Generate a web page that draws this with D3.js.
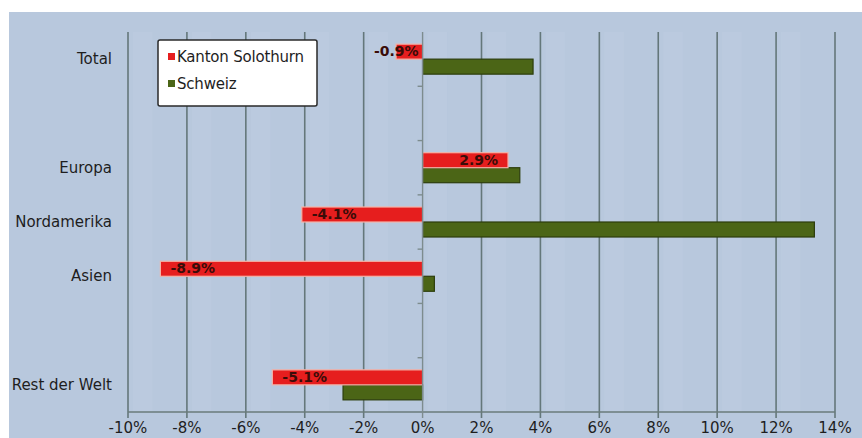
<!DOCTYPE html>
<html>
<head>
<meta charset="utf-8">
<script src="https://cdn.jsdelivr.net/npm/d3@7"></script>
<style>
  body { margin: 0; background: #fff; }
  svg text { font-family: "DejaVu Sans", Tahoma, sans-serif; }
</style>
</head>
<body>
<div class="chart"></div>
<script>
// data
const categories = ["Total", "", "Europa", "Nordamerika", "Asien", " ", "Rest der Welt"];
const solothurn = [-0.9, null, 2.9, -4.1, -8.9, null, -5.1];
const schweiz = [3.75, null, 3.3, 13.3, 0.4, null, -2.7];
const seriesNames = ["Kanton Solothurn", "Schweiz"];
const xTicks = [-10, -8, -6, -4, -2, 0, 2, 4, 6, 8, 10, 12, 14];

const width = 862, height = 438;
const colors = { red: "#e61e1e", green: "#4b6516" };

const svg = d3.select(".chart").append("svg")
    .attr("width", width)
    .attr("height", height);

// background panel
svg.append("rect")
    .attr("x", 9).attr("y", 12)
    .attr("width", width - 9).attr("height", height - 12)
    .attr("fill", "#b8c8dd");

const x = d3.scaleLinear().domain([-10, 14]).range([128, 835]);
const y = d3.scaleBand().domain(categories).range([32, 412]);

// faint lighter stripes between grid lines
svg.append("g").selectAll("rect")
    .data(xTicks.slice(0, -1))
    .join("rect")
    .attr("x", d => x(d) + 5)
    .attr("y", 32)
    .attr("width", (x(2) - x(0)) / 2 - 10)
    .attr("height", 380)
    .attr("fill", "#c2d1e4")
    .attr("opacity", 0.3);

// vertical grid lines
svg.append("g").selectAll("line")
    .data(xTicks.filter(d => d !== 0))
    .join("line")
    .attr("x1", d => x(d)).attr("x2", d => x(d))
    .attr("y1", 32).attr("y2", 418)
    .attr("stroke", "#64777a")
    .attr("stroke-width", 1.6);

// bottom axis
svg.append("line")
    .attr("x1", x(-10)).attr("x2", x(14))
    .attr("y1", 412).attr("y2", 412)
    .attr("stroke", "#6a7b7a")
    .attr("stroke-width", 1.6);

svg.append("g").selectAll("text")
    .data(xTicks)
    .join("text")
    .attr("x", d => x(d))
    .attr("y", 433)
    .attr("text-anchor", "middle")
    .attr("font-size", 15)
    .attr("fill", "#1e1e1e")
    .text(d => d + "%");

// category labels
svg.append("g").selectAll("text")
    .data(categories.filter(c => c.trim() !== ""))
    .join("text")
    .attr("x", 112)
    .attr("y", d => y(d) + y.bandwidth() / 2 + 5)
    .attr("text-anchor", "end")
    .attr("font-size", 15)
    .attr("fill", "#1e1e1e")
    .text(d => d);

const barH = 15;
const rows = categories.map((c, i) => ({ c, a: solothurn[i], b: schweiz[i] }));

// Schweiz bars (below center)
svg.append("g").selectAll("rect")
    .data(rows.filter(d => d.b !== null))
    .join("rect")
    .attr("x", d => x(Math.min(0, d.b)))
    .attr("y", d => y(d.c) + y.bandwidth() / 2)
    .attr("width", d => Math.abs(x(d.b) - x(0)))
    .attr("height", barH)
    .attr("fill", colors.green)
    .attr("stroke", "#2c3d0c")
    .attr("stroke-width", 1.2);

// Solothurn bars (above center)
svg.append("g").selectAll("rect")
    .data(rows.filter(d => d.a !== null))
    .join("rect")
    .attr("x", d => x(Math.min(0, d.a)))
    .attr("y", d => y(d.c) + y.bandwidth() / 2 - barH)
    .attr("width", d => Math.abs(x(d.a) - x(0)))
    .attr("height", barH)
    .attr("fill", colors.red)
    .attr("stroke", "#f3b3a8")
    .attr("stroke-width", 1.2);

// zero axis with small ticks
svg.append("line")
    .attr("x1", x(0)).attr("x2", x(0))
    .attr("y1", 32).attr("y2", 418)
    .attr("stroke", "#7d8c8e")
    .attr("stroke-width", 1.4);
svg.append("g").selectAll("line")
    .data(categories.slice(1))
    .join("line")
    .attr("x1", x(0) - 5).attr("x2", x(0))
    .attr("y1", d => y(d)).attr("y2", d => y(d))
    .attr("stroke", "#7d8c8e")
    .attr("stroke-width", 1.4);

// value labels
const fmt = v => v.toFixed(1) + "%";
svg.append("g").selectAll("text")
    .data(rows.filter(d => d.a !== null))
    .join("text")
    .attr("y", d => y(d.c) + y.bandwidth() / 2 - 3)
    .attr("font-size", 14)
    .attr("font-weight", "bold")
    .attr("fill", "#3a0c08")
    .text(d => fmt(d.a))
    .each(function(d) {
      const w = this.getComputedTextLength();
      let tx;
      if (d.a < 0) tx = Math.min(x(d.a) + 10, x(0) - 4 - w);
      else tx = x(d.a) - 10 - w;
      d3.select(this).attr("x", tx);
    });

// legend
const lg = svg.append("g").attr("transform", "translate(158,40)");
lg.append("rect")
    .attr("width", 159).attr("height", 66)
    .attr("rx", 2)
    .attr("fill", "#fff")
    .attr("stroke", "#2a2a2a")
    .attr("stroke-width", 1.5);
const li = lg.selectAll("g.item")
    .data(seriesNames)
    .join("g")
    .attr("class", "item")
    .attr("transform", (d, i) => `translate(10,${22 + i * 27})`);
li.append("rect")
    .attr("y", -9).attr("width", 7).attr("height", 7)
    .attr("fill", (d, i) => i === 0 ? colors.red : colors.green);
li.append("text")
    .attr("x", 9)
    .attr("font-size", 15)
    .attr("letter-spacing", "-0.2")
    .attr("fill", "#1e1e1e")
    .text(d => d);
</script>
</body>
</html>
